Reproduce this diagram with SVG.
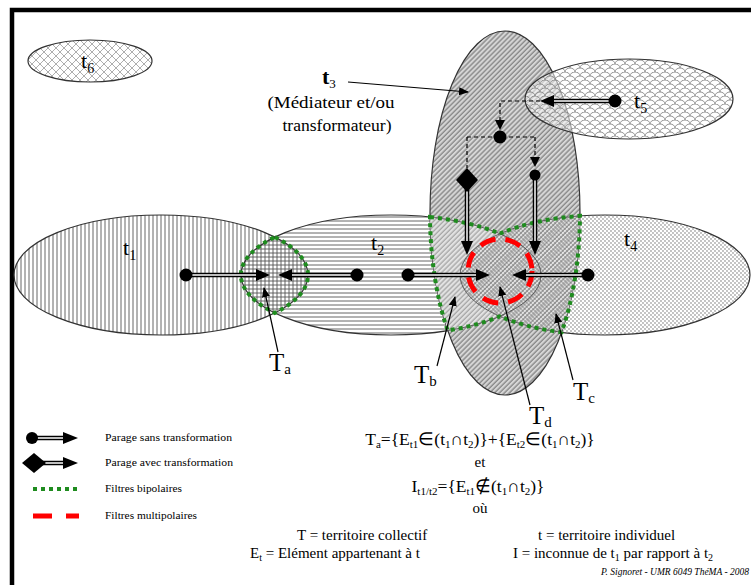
<svg xmlns="http://www.w3.org/2000/svg" width="751" height="585" viewBox="0 0 751 585">
<style>
.tx{font-family:"Liberation Serif","Times New Roman",serif;fill:#000}
.ol{stroke:#333;stroke-width:1.2}
.thin{fill:none;stroke:#444;stroke-width:0.8}
.green{fill:none;stroke:#1f8c1f;stroke-width:4;stroke-dasharray:4 4}
.red{fill:none;stroke:#f00;stroke-width:5;stroke-dasharray:16 10}
.sh{fill:none;stroke:#000;stroke-width:4.5}
.shw{fill:none;stroke:#fff;stroke-width:1.5}
.dash{fill:none;stroke:#000;stroke-width:1.2;stroke-dasharray:4 3}
.ptr{fill:none;stroke:#000;stroke-width:1.2;marker-end:url(#ah)}
.blk{fill:#000}
</style>
<defs>
<marker id="ah" markerWidth="10" markerHeight="8" refX="9" refY="4" orient="auto" markerUnits="userSpaceOnUse"><path d="M0,0 L10,4 L0,8 z" fill="#000"/></marker>
<pattern id="pv" width="4" height="4" patternUnits="userSpaceOnUse"><line x1="1" y1="0" x2="1" y2="4" stroke="#555" stroke-width="0.9"/></pattern>
<pattern id="ph" width="4" height="4" patternUnits="userSpaceOnUse"><line x1="0" y1="1" x2="4" y2="1" stroke="#555" stroke-width="0.9"/></pattern>
<pattern id="pd" width="3.5" height="3.5" patternUnits="userSpaceOnUse" patternTransform="rotate(45)"><rect width="3.5" height="3.5" fill="#d6d6d6"/><line x1="1" y1="0" x2="1" y2="3.5" stroke="#6a6a6a" stroke-width="1"/></pattern>
<pattern id="pd2" width="3.5" height="3.5" patternUnits="userSpaceOnUse" patternTransform="rotate(45)"><rect width="3.5" height="3.5" fill="#e2e2e2"/><line x1="1" y1="0" x2="1" y2="3.5" stroke="#8a8a8a" stroke-width="0.9"/></pattern>
<pattern id="pdot" width="4" height="4" patternUnits="userSpaceOnUse"><circle cx="1" cy="1" r="0.65" fill="#555"/><circle cx="3" cy="3" r="0.65" fill="#555"/></pattern>
<pattern id="pc" width="8" height="8" patternUnits="userSpaceOnUse"><path d="M0,0 L8,8 M8,0 L0,8" stroke="#999" stroke-width="0.8"/></pattern>
<pattern id="ps" width="10" height="8" patternUnits="userSpaceOnUse"><path d="M0,4 A5,4 0 0 1 10,4 M-5,8 A5,4 0 0 1 5,8 M5,8 A5,4 0 0 1 15,8" fill="none" stroke="#777" stroke-width="0.8"/></pattern>
<clipPath id="c3"><ellipse cx="505" cy="213" rx="75" ry="182"/></clipPath>
</defs>
<rect width="751" height="585" fill="#fff"/>
<g id="frame"><path d="M12,585 V10 H751" fill="none" stroke="#000" stroke-width="4.5"/></g>

<g id="t6">
<ellipse cx="90" cy="61" rx="62" ry="21" fill="url(#pc)" class="ol"/>
<text class="tx" x="81" y="68" font-size="22">t<tspan font-size="14" dy="5">6</tspan></text>
</g>

<g id="t1">
<ellipse cx="161" cy="275" rx="147" ry="60" fill="url(#pv)" class="ol"/>
<text class="tx" x="123" y="255" font-size="22">t<tspan font-size="14" dy="5">1</tspan></text>
</g>

<g id="t2">
<ellipse cx="391" cy="275" rx="150" ry="60" fill="url(#ph)" class="ol"/>
<text class="tx" x="371" y="250" font-size="22">t<tspan font-size="14" dy="5">2</tspan></text>
</g>

<g id="t4">
<ellipse cx="605" cy="275" rx="145" ry="60" fill="url(#pdot)" class="ol"/>
<text class="tx" x="624" y="246" font-size="22">t<tspan font-size="14" dy="5">4</tspan></text>
</g>

<g id="t3">
<ellipse cx="505" cy="213" rx="75" ry="182" fill="url(#pd)" class="ol"/>
<g clip-path="url(#c3)">
<ellipse cx="391" cy="275" rx="150" ry="60" fill="url(#pd2)"/>
<ellipse cx="605" cy="275" rx="145" ry="60" fill="url(#pd2)"/>
<ellipse cx="605" cy="275" rx="145" ry="60" fill="url(#pdot)"/>
<ellipse cx="391" cy="275" rx="150" ry="60" class="thin"/>
<ellipse cx="605" cy="275" rx="145" ry="60" class="thin"/>
</g>
<text class="tx" x="322" y="84" font-size="22" font-weight="bold">t<tspan font-size="13" font-weight="normal" dy="4">3</tspan></text>
<text class="tx" x="331" y="108" font-size="16" text-anchor="middle" textLength="127" lengthAdjust="spacingAndGlyphs">(Médiateur et/ou</text>
<text class="tx" x="337" y="131" font-size="16" text-anchor="middle" textLength="109" lengthAdjust="spacingAndGlyphs">transformateur)</text>
</g>

<g id="t5">
<ellipse cx="629" cy="99" rx="104" ry="40" fill="#fff" fill-opacity="0.55"/>
<ellipse cx="629" cy="99" rx="104" ry="40" fill="url(#ps)" class="ol"/>
<text class="tx" x="634" y="108" font-size="22">t<tspan font-size="14" dy="5">5</tspan></text>
</g>

<g id="Ta">
<path class="green" d="M274.8,237 A147,60 0 0 1 274.8,313 A150,60 0 0 1 274.8,237 Z"/>
<text class="tx" x="269" y="371" font-size="25">T<tspan font-size="15" dy="3">a</tspan></text>
</g>

<g id="Tb">
<path class="green" d="M430,217.1 A150,60 0 0 1 499.8,233.7 A145,60 0 0 1 580,215.9 A75,182 0 0 1 561.6,332.3 A145,60 0 0 1 499.8,316.3 A150,60 0 0 1 447.7,330.5 A75,182 0 0 1 430,217.1 Z"/>
<text class="tx" x="414" y="383" font-size="25">T<tspan font-size="15" dy="3">b</tspan></text>
</g>

<g id="Td">
<circle class="red" cx="500" cy="271" r="32"/>
<text class="tx" x="529" y="424" font-size="25">T<tspan font-size="15" dy="3">d</tspan></text>
</g>

<g id="Tc">
<text class="tx" x="573" y="400" font-size="25">T<tspan font-size="15" dy="3">c</tspan></text>
</g>

<g id="connectors">
<path class="sh" d="M186,275 H257"/><path class="shw" d="M186,275 H257"/><polygon class="blk" points="256,269 270,275 256,281"/>
<path class="sh" d="M357,275 H291"/><path class="shw" d="M357,275 H291"/><polygon class="blk" points="292,269 278,275 292,281"/>
<path class="sh" d="M408,275 H477"/><path class="shw" d="M408,275 H477"/><polygon class="blk" points="476,269 490,275 476,281"/>
<path class="sh" d="M588,275 H525"/><path class="shw" d="M588,275 H525"/><polygon class="blk" points="526,269 512,275 526,281"/>
<path class="sh" d="M615,101 H553"/><path class="shw" d="M615,101 H553"/><polygon class="blk" points="554,95 540,101 554,107"/>
<path class="sh" d="M467,180 V242"/><path class="shw" d="M467,180 V242"/><polygon class="blk" points="461,241 467,255 473,241"/>
<path class="sh" d="M535,175 V242"/><path class="shw" d="M535,175 V242"/><polygon class="blk" points="529,241 535,255 541,241"/>
<path class="dash" d="M540,101 H500 V121"/><polygon class="blk" points="495,120 500,130 505,120"/>
<path class="dash" d="M467,137 H535 M467,137 V168 M535,137 V158"/><polygon class="blk" points="530,157 535,167 540,157"/>
<circle class="blk" cx="186" cy="275" r="6.5"/>
<circle class="blk" cx="357" cy="275" r="6.5"/>
<circle class="blk" cx="408" cy="275" r="6.5"/>
<circle class="blk" cx="588" cy="275" r="6.5"/>
<circle class="blk" cx="615" cy="101" r="6.5"/>
<circle class="blk" cx="500" cy="137" r="6.5"/>
<circle class="blk" cx="535" cy="175" r="5.5"/>
<polygon class="blk" points="467,168 478,180 467,192 456,180"/>
<path class="ptr" d="M348,82 L468,92"/>
<path class="ptr" d="M278,352 L264,288"/>
<path class="ptr" d="M437,366 L455,297"/>
<path class="ptr" d="M530,405 L500,287"/>
<path class="ptr" d="M573,380 L556,314"/>
</g>

<g id="legend">
<path class="sh" d="M32,438 H64"/><path class="shw" d="M32,438 H64"/><polygon class="blk" points="63,432 78,438 63,444"/><circle class="blk" cx="32" cy="438" r="6"/>
<text class="tx" x="105" y="441" font-size="11" textLength="127" lengthAdjust="spacingAndGlyphs">Parage sans transformation</text>
<path class="sh" d="M34,463 H64"/><path class="shw" d="M34,463 H64"/><polygon class="blk" points="63,457 78,463 63,469"/><polygon class="blk" points="34,453 46,463 34,473 22,463"/>
<text class="tx" x="105" y="466" font-size="11" textLength="128" lengthAdjust="spacingAndGlyphs">Parage avec transformation</text>
<line class="green" x1="33" y1="489" x2="79" y2="489"/>
<text class="tx" x="105" y="492" font-size="11" textLength="77" lengthAdjust="spacingAndGlyphs">Filtres bipolaires</text>
<line x1="33" y1="516" x2="79" y2="516" stroke="#f00" stroke-width="5" stroke-dasharray="19 14"/>
<text class="tx" x="105" y="519" font-size="11" textLength="92" lengthAdjust="spacingAndGlyphs">Filtres multipolaires</text>
</g>

<g id="formulas">
<text class="tx" x="480" y="445" font-size="17.5" text-anchor="middle">T<tspan font-size="11" dy="3">a</tspan><tspan dy="-3">={E</tspan><tspan font-size="11" dy="3">t1</tspan><tspan dy="-3">∈(t</tspan><tspan font-size="11" dy="3">1</tspan><tspan dy="-3">∩t</tspan><tspan font-size="11" dy="3">2</tspan><tspan dy="-3">)}+{E</tspan><tspan font-size="11" dy="3">t2</tspan><tspan dy="-3">∈(t</tspan><tspan font-size="11" dy="3">1</tspan><tspan dy="-3">∩t</tspan><tspan font-size="11" dy="3">2</tspan><tspan dy="-3">)}</tspan></text>
<text class="tx" x="480" y="467" font-size="15" text-anchor="middle">et</text>
<text class="tx" x="478" y="492" font-size="17.5" text-anchor="middle">I<tspan font-size="11" dy="3">t1/t2</tspan><tspan dy="-3">={E</tspan><tspan font-size="11" dy="3">t1</tspan><tspan dy="-3">∉(t</tspan><tspan font-size="11" dy="3">1</tspan><tspan dy="-3">∩t</tspan><tspan font-size="11" dy="3">2</tspan><tspan dy="-3">)}</tspan></text>
<text class="tx" x="480" y="513" font-size="15" text-anchor="middle">où</text>
<text class="tx" x="297" y="540" font-size="15">T = territoire collectif</text>
<text class="tx" x="538" y="540" font-size="15">t = territoire individuel</text>
<text class="tx" x="250" y="558" font-size="15">E<tspan font-size="10" dy="3">t</tspan><tspan dy="-3"> = Elément appartenant à t</tspan></text>
<text class="tx" x="513" y="558" font-size="15">I = inconnue de t<tspan font-size="10" dy="3">1</tspan><tspan dy="-3"> par rapport à t</tspan><tspan font-size="10" dy="3">2</tspan></text>
<text class="tx" x="675" y="575" font-size="9.5" font-style="italic" text-anchor="middle">P. Signoret - UMR 6049 ThéMA - 2008</text>
</g>
</svg>
